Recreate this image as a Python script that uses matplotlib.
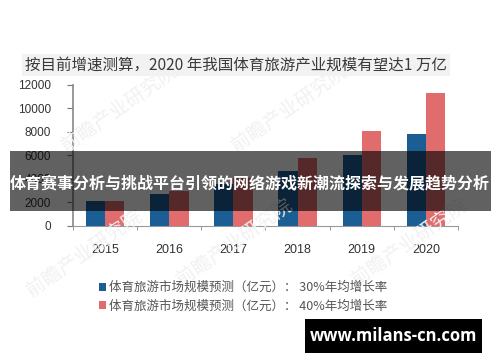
import numpy as np
import matplotlib.pyplot as plt
from matplotlib.patches import Rectangle

plt.rcParams['font.family'] = ['Noto Sans CJK SC', 'DejaVu Sans']

# 数据
years = ['2015', '2016', '2017', '2018', '2019', '2020']
growth_30 = [2100, 2750, 3550, 4650, 6000, 7800]
growth_40 = [2100, 2950, 4100, 5800, 8050, 11300]
yticks = [0, 2000, 4000, 6000, 8000, 10000, 12000]

title_text = '按目前增速测算，2020 年我国体育旅游产业规模有望达1 万亿'
label_30 = '体育旅游市场规模预测（亿元）： 30%年均增长率'
label_40 = '体育旅游市场规模预测（亿元）： 40%年均增长率'
banner_text = '体育赛事分析与挑战平台引领的网络游戏新潮流探索与发展趋势分析'
site_text = 'www.milans-cn.com'

blue = '#1b5e93'
red = '#e06c6e'

fig = plt.figure(figsize=(5, 3.62), dpi=100)
ax = fig.add_axes([0.146, 0.3757, 0.77, 0.3895])

# 水印
for (wx, wy) in [(0.24, 0.70), (0.58, 0.70), (0.17, 0.30), (0.47, 0.33), (0.82, 0.33)]:
    fig.text(wx, wy, '前瞻产业研究院', fontsize=14, color='#f1f1f1', rotation=35,
             ha='center', va='center', zorder=0)

x = np.arange(len(years))
w = 0.3
ax.bar(x - w / 2, growth_30, width=w, color=blue, label=label_30, zorder=3)
ax.bar(x + w / 2, growth_40, width=w, color=red, label=label_40, zorder=3)

ax.set_xlim(-0.5, len(years) - 0.5)
ax.set_ylim(0, 12000)
ax.set_yticks(yticks)
ax.set_yticklabels([str(v) for v in yticks], fontsize=8.5, color='#333333',
                   family=['Liberation Sans', 'DejaVu Sans'])
ax.set_xticks(x)
ax.set_xticklabels(years, fontsize=9, color='#333333',
                   family=['Liberation Sans', 'DejaVu Sans'])
ax.set_xticks(np.arange(-0.5, len(years)), minor=True)
ax.tick_params(axis='x', which='major', length=0, pad=13)
ax.tick_params(axis='x', which='minor', length=3, color='#888888')
ax.tick_params(axis='y', length=4, color='#777777', pad=12)

for s in ['top', 'right']:
    ax.spines[s].set_visible(False)
ax.spines['left'].set_color('#888888')
ax.spines['bottom'].set_color('#999999')
ax.spines['left'].set_linewidth(1.2)
ax.patch.set_alpha(0)

# 标题
fig.text(0.05, 0.82, title_text, fontsize=11.2, color='#3a3a3a', ha='left', va='center',
         bbox=dict(facecolor='#f2f2f2', edgecolor='none', pad=2))

# 图例
fig.legend(loc='upper left', bbox_to_anchor=(0.175, 0.255), frameon=False,
           fontsize=9, handlelength=0.6, handleheight=0.6, handletextpad=0.2,
           labelspacing=0.45, labelcolor='#555555')

# 半透明横幅
fig.patches.append(Rectangle((0.02, 0.417), 0.962, 0.166, transform=fig.transFigure,
                             facecolor='black', alpha=0.62, edgecolor='none', zorder=10))
fig.text(0.5, 0.4945, banner_text, fontsize=11.5, fontweight='bold', color='white',
         ha='center', va='center', zorder=11)

# 右下角网址
fig.patches.append(Rectangle((0.61, 0.025), 0.354, 0.094, transform=fig.transFigure,
                             facecolor='black', edgecolor='none', zorder=10))
fig.text(0.787, 0.072, site_text, fontsize=12, fontweight='bold', color='white',
         ha='center', va='center', family=['Open Sans', 'DejaVu Sans'], zorder=11)

fig.savefig('out.png', dpi=100)
